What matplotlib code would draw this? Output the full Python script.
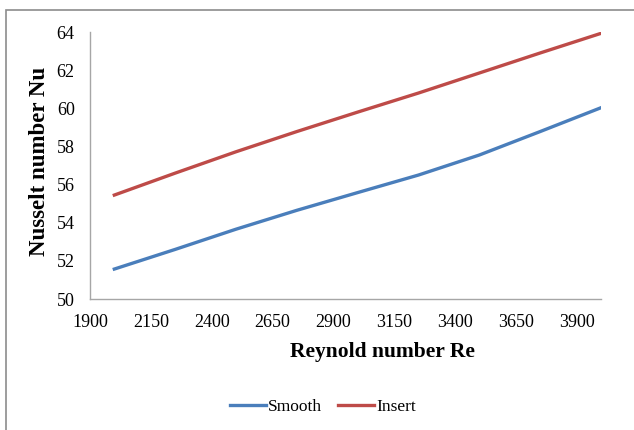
import matplotlib
matplotlib.use("Agg")
import matplotlib.pyplot as plt
from matplotlib.patches import Rectangle

re_values = [2000, 2250, 2500, 2750, 3000, 3250, 3500, 3750, 4000]
nu_smooth = [51.57, 52.6, 53.66, 54.65, 55.58, 56.5, 57.55, 58.78, 60.03]
nu_insert = [55.45, 56.6, 57.72, 58.78, 59.8, 60.8, 61.85, 62.9, 63.93]
x_ticks = [1900, 2150, 2400, 2650, 2900, 3150, 3400, 3650, 3900]
y_ticks = [50, 52, 54, 56, 58, 60, 62, 64]

plt.rcParams['font.family'] = ['Liberation Serif', 'DejaVu Serif']

W, H = 634, 430
fig = plt.figure(figsize=(W / 100, H / 100), dpi=100)

# outer chart border
fig.patches.append(Rectangle((6 / W, -0.05), 1.2, (H - 10) / H + 0.05, transform=fig.transFigure,
                             fill=False, edgecolor='#8c8c8c', linewidth=1.2))

left, right, top, bottom = 90, 601, 32, 299
ax = fig.add_axes([left / W, 1 - bottom / H, (right - left) / W, (bottom - top) / H])

l1, = ax.plot(re_values, nu_smooth, color='#4A7EBB', linewidth=2.4, label='Smooth',
              solid_joinstyle='round')
l2, = ax.plot(re_values, nu_insert, color='#BE4B48', linewidth=2.4, label='Insert',
              solid_joinstyle='round')

ax.set_xlim(1900, 4000)
ax.set_ylim(50, 64)
ax.set_xticks(x_ticks)
ax.set_yticks(y_ticks)
ax.tick_params(length=0, labelsize=13)
ax.tick_params(axis='x', pad=11)
ax.tick_params(axis='y', pad=11)
for s in ['top', 'right']:
    ax.spines[s].set_visible(False)
for s in ['left', 'bottom']:
    ax.spines[s].set_color('#A6A6A6')
    ax.spines[s].set_linewidth(1)

fig.text(382 / W, 1 - 352 / H, 'Reynold number Re', fontsize=15.5, fontweight='bold',
         ha='center', va='center')
fig.text(40 / W, 1 - 161 / H, 'Nusselt number Nu', fontsize=16.5, fontweight='bold',
         ha='center', va='center', rotation=90)

fig.legend(handles=[l1, l2], loc='center', bbox_to_anchor=(323 / W, 1 - 407 / H), ncol=2,
           frameon=False, fontsize=12.5, handlelength=2.05, handletextpad=0.15,
           columnspacing=0.9, borderpad=0, borderaxespad=0)

fig.savefig('out.png', dpi=100)
